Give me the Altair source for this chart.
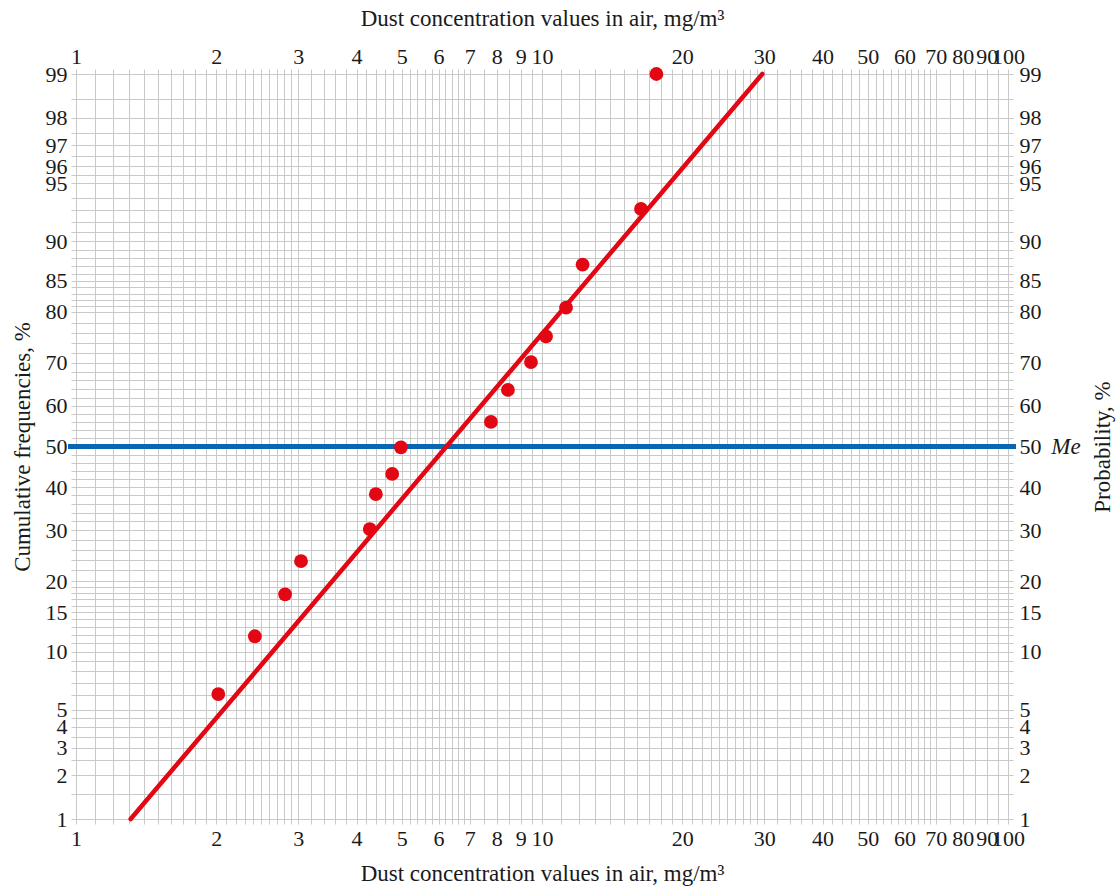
import altair as alt
import pandas as pd
from statistics import NormalDist

# ---- data ----
conc = [2.02, 2.42, 2.81, 3.04, 4.27, 4.40, 4.77, 4.98, 7.77, 8.45, 9.47, 10.2, 11.26, 12.22, 16.31, 17.6]
cumfreq = [6.1, 11.8, 17.8, 23.7, 30.3, 38.3, 43.2, 49.8, 56.1, 63.8, 70.1, 75.4, 80.7, 87.2, 93.1, 99.0]
fit_conc = [1.31, 29.7]
fit_prob = [1, 99]
median_prob = [50]
median_label_conc = [100]

x_labels = [1, 2, 3, 4, 5, 6, 7, 8, 9, 10, 20, 30, 40, 50, 60, 70, 80, 90, 100]
y_labels = [1, 2, 3, 4, 5, 10, 15, 20, 30, 40, 50, 60, 70, 80, 85, 90, 95, 96, 97, 98, 99]

# grid (tick) positions of the log-probability paper
x_grid = []
for mult in (1, 10):
    x_grid += [mult * t / 10 for t in range(10, 30)]
    x_grid += [mult * t / 10 for t in range(30, 70, 2)]
    x_grid += [mult * t / 10 for t in range(70, 100, 5)]
x_grid.append(100)
x_grid = [int(v) if float(v).is_integer() else round(v, 2) for v in x_grid]

y_grid = ([t / 10 for t in range(10, 50, 5)] + list(range(5, 20)) + list(range(20, 80, 2))
          + list(range(80, 95)) + [t / 10 for t in range(950, 991, 5)])

nd = NormalDist()
y_grid_z = [nd.inv_cdf(p / 100) for p in y_grid]
zlo, zhi = nd.inv_cdf(0.01), nd.inv_cdf(0.99)

FONT = "Liberation Serif"
GRID = "#c9c9c9"
RED = "#e30613"
BLUE = "#0a66b0"
TXT = "#1a1a1a"
W, H = 932, 745

xscale = alt.Scale(type="log", domain=[1, 100], nice=False)
yscale = alt.Scale(domain=[zlo, zhi], nice=False, zero=False)

x_label_expr = f"indexof({x_labels}, datum.value) >= 0 ? '' + datum.value : ''"
pexpr = "round(cumulativeNormal(datum.value) * 1000) / 10"
y_label_expr = f"indexof({y_labels}, {pexpr}) >= 0 ? '' + {pexpr} : ''"

common = dict(
    labelFont=FONT, labelFontSize=22, labelColor=TXT,
    titleFont=FONT, titleFontSize=23, titleFontWeight="normal", titleColor=TXT,
    domain=False, tickColor=GRID, tickSize=5, tickWidth=1,
    labelOverlap=False, labelFlush=False,
)
XTITLE = "Dust concentration values in air, mg/m³"

def zcalc(df):
    return alt.Chart(df).transform_calculate(z="quantileNormal(datum.p / 100)")

rule = zcalc(pd.DataFrame({"p": median_prob})).mark_rule(color=BLUE, strokeWidth=5).encode(
    y=alt.Y("z:Q", scale=yscale, axis=None),
    x=alt.value(-8),
    x2=alt.value(W + 8),
)

line = zcalc(pd.DataFrame({"conc": fit_conc, "p": fit_prob})).mark_line(
    color=RED, strokeWidth=4.5, strokeCap="round"
).encode(
    x=alt.X("conc:Q", scale=xscale, axis=alt.Axis(
        orient="top", values=x_grid, grid=False, labelExpr=x_label_expr,
        title=XTITLE, titleY=-56, titleBaseline="middle", labelPadding=1, **common)),
    y=alt.Y("z:Q", scale=yscale, axis=alt.Axis(
        orient="right", values=y_grid_z, grid=False, labelExpr=y_label_expr,
        title="Probability, %", titleAngle=270, titleX=94, titleBaseline="middle",
        labelPadding=6, **common)),
)

pts = zcalc(pd.DataFrame({"conc": conc, "p": cumfreq})).mark_circle(
    size=190, color=RED, opacity=1
).encode(
    x=alt.X("conc:Q", scale=xscale, axis=alt.Axis(
        orient="bottom", values=x_grid, grid=True, gridColor=GRID, gridWidth=1,
        labelExpr=x_label_expr, title=XTITLE, titleY=54, titleBaseline="middle",
        labelPadding=4, **common)),
    y=alt.Y("z:Q", scale=yscale, axis=alt.Axis(
        orient="left", values=y_grid_z, grid=True, gridColor=GRID, gridWidth=1,
        labelExpr=y_label_expr, title="Cumulative frequencies, %", titleAngle=270,
        titleX=-54, titleBaseline="middle", labelPadding=4, **common)),
)

me = zcalc(pd.DataFrame({"conc": median_label_conc, "p": median_prob})).mark_text(
    text="Me", font=FONT, fontStyle="italic", fontSize=23, dx=58,
    align="center", baseline="middle", color=TXT
).encode(
    x=alt.X("conc:Q", scale=xscale, axis=None),
    y=alt.Y("z:Q", scale=yscale, axis=None),
)

chart = alt.layer(rule, line, pts, me).resolve_axis(
    x="independent", y="independent"
).properties(
    width=W, height=H,
    autosize=alt.AutoSizeParams(type="none"),
    padding={"left": 76, "top": 74, "right": 108, "bottom": 71},
).configure_view(stroke=None)

chart.save("out.html", embed_options={"renderer": "svg", "actions": False})
